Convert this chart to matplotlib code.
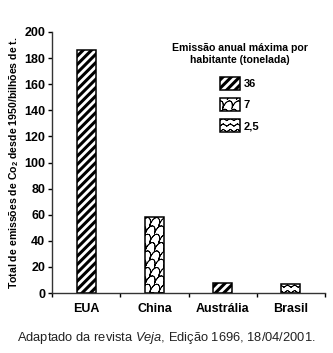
import numpy as np
import matplotlib
matplotlib.use("Agg")
import matplotlib.pyplot as plt
import matplotlib.hatch as mhatch
from matplotlib.path import Path
from matplotlib.patches import Patch

# ---------------- data ----------------
categories = ["EUA", "China", "Austrália", "Brasil"]
totals = [186, 58, 7.4, 6.8]
per_capita = ["36", "7", "36", "2,5"]          # emission class of each country
legend_classes = ["36", "7", "2,5"]
yticks = [0, 20, 40, 60, 80, 100, 120, 140, 160, 180, 200]

# ---------------- custom hatches ----------------
def _retrace(xs, ys):
    # go forward and back along the same curve so the filled area is zero
    return np.concatenate([xs, xs[::-1]]), np.concatenate([ys, ys[::-1]])


class WaveHatch(mhatch.HatchPatternBase):
    """'*' -> horizontal wavy lines"""
    def __init__(self, hatch, density):
        self.num_rows = int(hatch.count('*') * density)
        self.npts = 57
        self.num_vertices = self.num_rows * self.npts * 2

    def set_vertices_and_codes(self, vertices, codes):
        x = np.linspace(0, 1, self.npts)
        n = 2 * self.npts
        for i in range(self.num_rows):
            y0 = (i + 0.5) / self.num_rows
            xs, ys = _retrace(x, y0 + 0.012 * np.sin(2 * np.pi * 14 * x))
            sl = slice(i * n, (i + 1) * n)
            vertices[sl, 0] = xs
            vertices[sl, 1] = ys
            codes[sl] = Path.LINETO
            codes[i * n] = Path.MOVETO


class ScaleHatch(mhatch.HatchPatternBase):
    """'o' -> rows of slanted scale-like arcs"""
    def __init__(self, hatch, density):
        n = hatch.count('o')
        self.ncols = 11 * n
        self.nrows = 12 * n
        self.npts = 9
        self.num_vertices = self.ncols * self.nrows * self.npts * 2 if n else 0

    def set_vertices_and_codes(self, vertices, codes):
        w = 1.0 / self.ncols
        h = 1.0 / self.nrows
        t = np.linspace(np.pi, 0, self.npts)
        k = 0
        n = 2 * self.npts
        for r in range(self.nrows):
            off = (r % 2) * w / 2
            for c in range(self.ncols):
                cx = c * w + off + w / 2
                cy = r * h
                xs = cx + (w / 2) * np.cos(t) + 0.25 * w * np.sin(t)
                ys = cy + 0.9 * h * np.sin(t)
                xs, ys = _retrace(xs, ys)
                sl = slice(k, k + n)
                vertices[sl, 0] = xs
                vertices[sl, 1] = ys
                codes[sl] = Path.LINETO
                codes[k] = Path.MOVETO
                k += n


mhatch._hatch_types = [mhatch.NorthEastHatch, WaveHatch, ScaleHatch]

hatch_of = {"36": "////", "7": "o", "2,5": "***"}
hlw_of = {"36": 2.2, "7": 0.6, "2,5": 0.6}


def set_hlw(p, lw):
    if hasattr(p, "set_hatch_linewidth"):
        p.set_hatch_linewidth(lw)
    else:
        p._hatch_linewidth = lw


plt.rcParams['font.family'] = ['Liberation Sans', 'DejaVu Sans']
plt.rcParams['mathtext.fontset'] = 'custom'
plt.rcParams['mathtext.rm'] = 'Liberation Sans'
plt.rcParams['mathtext.it'] = 'Liberation Sans:italic'
plt.rcParams['mathtext.bf'] = 'Liberation Sans:bold'

fig = plt.figure(figsize=(3.33, 3.53), dpi=100)
ax = fig.add_axes([52 / 333, 1 - 293 / 353, (325 - 52) / 333, (293 - 32) / 353])

x = np.arange(len(categories))
for xi, val, cls in zip(x, totals, per_capita):
    b = ax.bar(xi, val, width=0.28, color='white', edgecolor='black',
               linewidth=1.1, hatch=hatch_of[cls])
    set_hlw(b[0], hlw_of[cls])

ax.set_xlim(-0.5, 3.5)
ax.set_ylim(0, 200)
ax.set_yticks(yticks)
ax.set_yticklabels([str(v) for v in yticks], fontsize=9, fontweight='bold')
ax.set_xticks(np.arange(-0.5, 3.6, 1.0))
ax.set_xticklabels([])
ax.set_xticks(x, minor=True)
ax.set_xticklabels(categories, minor=True, fontsize=9, fontweight='bold')
ax.tick_params(axis='x', which='minor', length=0, pad=7)
ax.tick_params(axis='x', which='major', length=3, width=1)
ax.tick_params(axis='y', length=3, width=1, pad=2)
for s in ['top', 'right']:
    ax.spines[s].set_visible(False)
for s in ['left', 'bottom']:
    ax.spines[s].set_linewidth(1)
    ax.spines[s].set_color('#333333')

ax.set_ylabel("Total de emissões de Co$_\\mathbf{2}$ desde 1950/bilhões de t.",
              fontsize=7.6, fontweight='bold', labelpad=2)

# legend
handles = []
for cls in legend_classes:
    p = Patch(facecolor='white', edgecolor='black', linewidth=1.1, hatch=hatch_of[cls])
    set_hlw(p, hlw_of[cls])
    handles.append(p)
fig.text(240 / 333, 1 - 43 / 353, "Emissão anual máxima por\nhabitante (tonelada)",
         ha='center', va='top', fontsize=7.6, fontweight='bold', linespacing=1.25)
leg = ax.legend(handles, legend_classes, loc='upper left',
                bbox_to_anchor=(212 / 333, 1 - 69 / 353), bbox_transform=fig.transFigure,
                frameon=False, fontsize=8, handlelength=1.8, handleheight=1.45,
                labelspacing=0.72, handletextpad=0.35, borderpad=0.2)
for t in leg.get_texts():
    t.set_fontweight('bold')
for h, cls in zip(leg.legend_handles, legend_classes):
    set_hlw(h, hlw_of[cls])

fig.text(166 / 333, 1 - 338 / 353, "Adaptado da revista $\\mathit{Veja}$, Edição 1696, 18/04/2001.",
         ha='center', va='center', fontsize=9.3, color='#222222')

fig.savefig("out.png", dpi=100)
